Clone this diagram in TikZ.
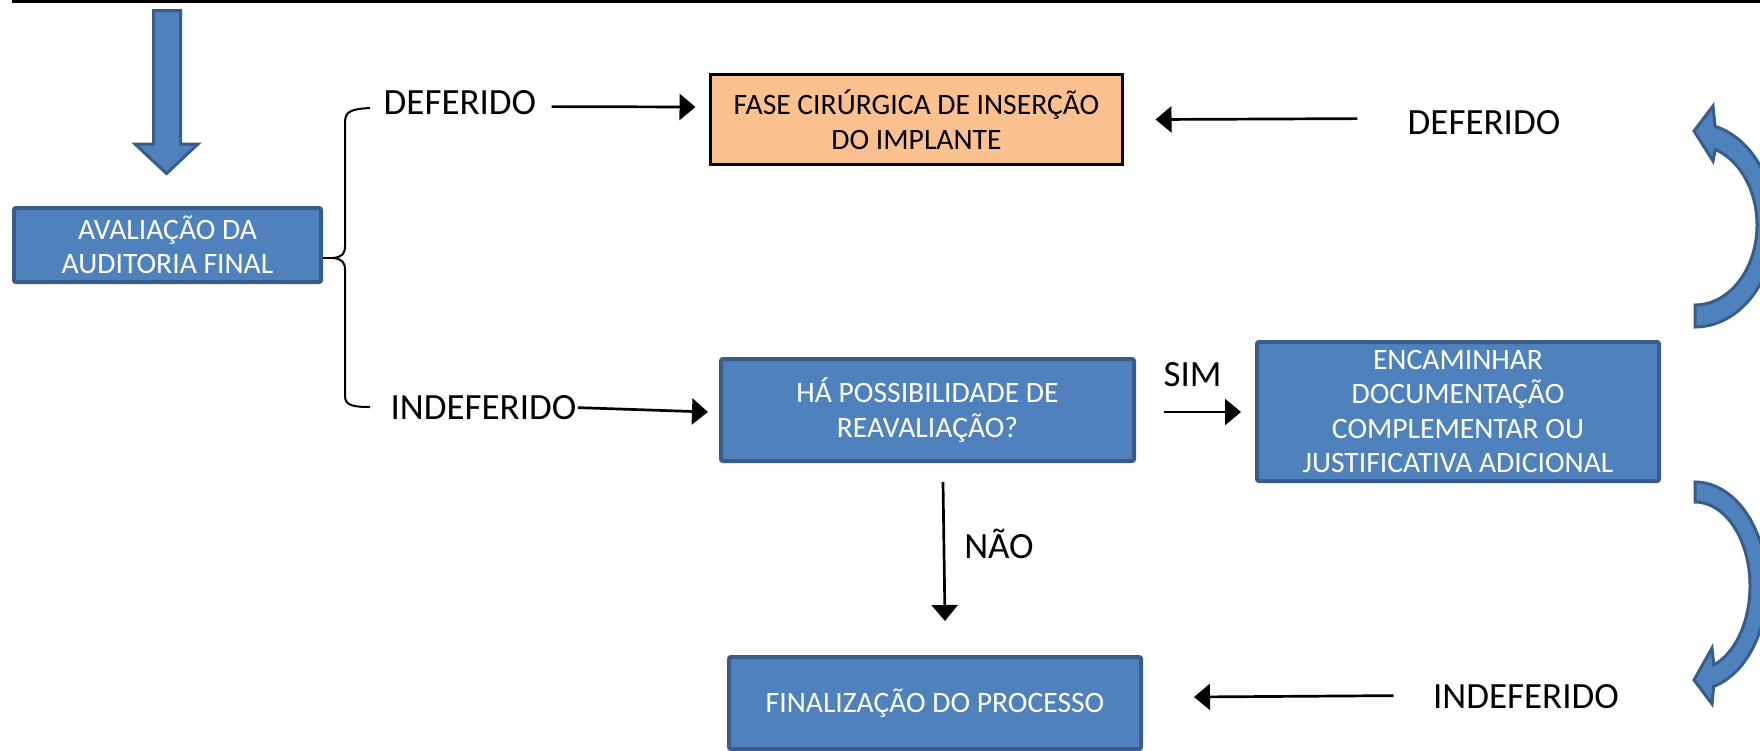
\documentclass[tikz,border=0pt]{standalone}
\usepackage{fontspec}
\setmainfont{Carlito}
\usetikzlibrary{arrows.meta,calc}
\definecolor{bfill}{RGB}{79,129,189}
\definecolor{bline}{RGB}{56,93,138}
\definecolor{ofill}{RGB}{250,192,144}
\begin{document}
\begin{tikzpicture}[x=0.5pt,y=-0.5pt,
  bluebox/.style={draw=bline,fill=bfill,line width=2pt,rounded corners=1pt,text=white,align=center,font=\fontsize{14.8}{17.25}\selectfont,inner sep=0pt},
  orangebox/.style={draw=black,fill=ofill,line width=1.5pt,align=center,font=\fontsize{14.8}{17.25}\selectfont,inner sep=0pt},
  lbl/.style={anchor=base,inner sep=0pt,font=\fontsize{18.5}{22}\selectfont},
  arr/.style={line width=1.35pt,-{Triangle[length=8pt,width=13pt]}},
  bracestyle/.style={line width=1pt},
  blockarrow/.style={draw=bline,fill=bfill,line width=1.5pt,line join=miter}
]
\useasboundingbox (0,0) rectangle (1760,750);
\clip (0,0) rectangle (1760,750);

% top rule
\draw[line width=1.5pt] (12,1.5) -- (1760,1.5);

% block arrow down
\path[blockarrow] (153.5,10.5) -- (180.5,10.5) -- (180.5,144) -- (198,144) -- (166.5,173.5) -- (135,144) -- (153.5,144) -- cycle;

% boxes
\node[bluebox,minimum width=153.5pt,minimum height=37pt] (aval) at (167.5,245) {AVALIAÇÃO DA\\AUDITORIA FINAL};
\node[orangebox,minimum width=206pt,minimum height=45pt] (fase) at (916.5,119.5) {FASE CIRÚRGICA DE INSERÇÃO\\DO IMPLANTE};
\node[bluebox,minimum width=206.5pt,minimum height=51pt] (reav) at (927.5,410) {HÁ POSSIBILIDADE DE\\REAVALIAÇÃO?};
\node[bluebox,minimum width=201pt,minimum height=69.5pt] (enc) at (1458,411.5) {ENCAMINHAR\\DOCUMENTAÇÃO\\COMPLEMENTAR OU\\JUSTIFICATIVA ADICIONAL};
\node[bluebox,minimum width=206pt,minimum height=46pt] (fim) at (935,703) {FINALIZAÇÃO DO PROCESSO};

% labels
\node[lbl] (defL) at (460,114.5) {DEFERIDO};
\node[lbl] (indefL) at (483.5,419.5) {INDEFERIDO};
\node[lbl] (defR) at (1484,134.5) {DEFERIDO};
\node[lbl] (indefR) at (1526,708.5) {INDEFERIDO};
\node[lbl] (sim) at (1192.5,386.5) {SIM};
\node[lbl] (nao) at (999,558.5) {NÃO};

% brace
\coordinate (btip) at (333,258);
\draw[bracestyle] ($(aval.east)+(0,13)$) -- (btip);
\draw[bracestyle] (370,108) .. controls (352,109) and (345,111) .. (345,122) -- (345,246)
  .. controls (345,254) and (342,257) .. (btip)
  .. controls (342,259) and (345,262) .. (345,270) -- (345,396)
  .. controls (345,405) and (352,407) .. (370,407);

% connectors
\draw[arr] ($(defL.east)+(15,4)$) -- ($(fase.west)+(-13.5,-12.5)$);
\draw[arr] ($(indefL.east)+(1,0)$) -- ($(reav.west)+(-11,2)$);
\draw[arr] ($(defR.west)+(-50,-4)$) -- ($(fase.east)+(31.5,0)$);
\draw[arr] ($(reav.east)+(28,2)$) -- ($(enc.west)+(-14,0.5)$);
\draw[arr] ($(reav.south)+(15.5,19)$) -- ($(fim.north)+(10,-34)$);
\draw[arr] ($(indefR.west)+(-39,-1)$) -- ($(fim.east)+(51,-6)$);

% curved arrows (right edge)
\path[blockarrow] (1694,131) -- (1713,106)
  -- plot[domain=-75.5:90,samples=60] ({1695+80*cos(\x)},{225+102*sin(\x)})
  -- plot[domain=0:1,samples=60] ({1695+62*cos(90-161*\x)},{225+80*sin(90-161*\x)})
  -- (1713,161) -- cycle;
\path[blockarrow] (1694,680) -- (1712,704)
  -- plot[domain=0:1,samples=60] ({1695+72*cos(75-165*\x)},{586+104*sin(75-165*\x)})
  -- plot[domain=-90:70,samples=60] ({1695+55*cos(\x)},{586+84*sin(\x)})
  -- (1712,648) -- cycle;
\end{tikzpicture}
\end{document}
